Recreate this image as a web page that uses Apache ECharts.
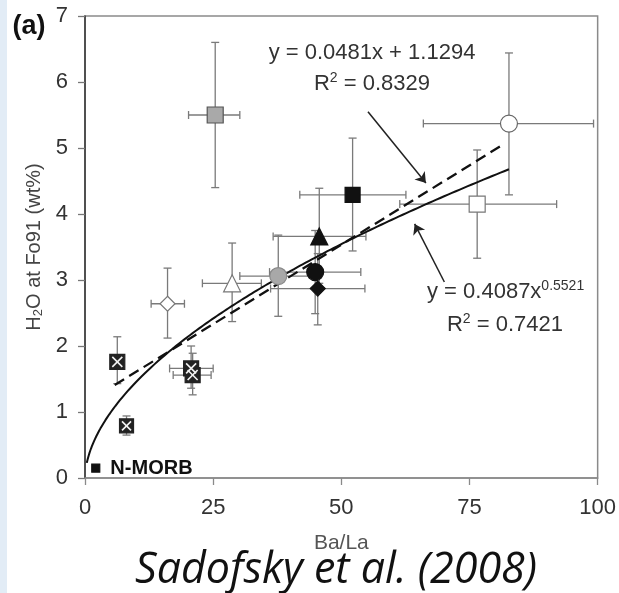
<!DOCTYPE html>
<html>
<head>
<meta charset="utf-8">
<script src="https://cdn.jsdelivr.net/npm/echarts@6/dist/echarts.min.js"></script>
<style>
  html, body { margin: 0; padding: 0; background: #fff; }
  #chart { width: 619px; height: 593px; }
</style>
</head>
<body>
<div id="chart"></div>
<script>
// Ba/La versus H2O at Fo91 (wt%) for each sample group, with 1-sigma ranges
const baLa   = [25.4, 82.7, 52.2, 76.5, 45.7, 44.9, 45.4, 37.7, 28.7, 16.1, 6.3, 20.7, 21.0, 8.1, 2.1];
const h2o    = [5.50, 5.37, 4.29, 4.15, 3.66, 3.12, 2.87, 3.06, 2.95, 2.64, 1.76, 1.66, 1.56, 0.79, 0.15];
const baLaLo = [20.2, 66.0, 41.9, 61.4, 36.7, 36.0, 36.2, 30.2, 22.9, 12.9, null, 16.5, 17.2, null, null];
const baLaHi = [30.2, 99.2, 62.6, 92.0, 54.8, 53.8, 54.6, 45.0, 34.4, 19.4, null, 25.0, 24.6, null, null];
const h2oLo  = [4.40, 4.29, 3.44, 3.33, 2.95, 2.49, 2.32, 2.45, 2.37, 2.12, 1.43, 1.36, 1.26, 0.65, null];
const h2oHi  = [6.60, 6.44, 5.15, 4.97, 4.39, 3.75, 3.40, 3.68, 3.56, 3.18, 2.14, 2.00, 1.89, 0.94, null];
const pointLabels = ['', '', '', '', '', '', '', '', '', '', '', '', '', '', 'N-MORB'];

// Fitted trends
const linSlope = 0.0481, linIntercept = 1.1294, linRange = [5.8, 81.0];
const powCoef = 0.4087, powExp = 0.5521, powRange = [0.35, 82.7];

// Axis ticks
const xTicks = [0, 25, 50, 75, 100];
const yTicks = [0, 1, 2, 3, 4, 5, 6, 7];

// Callout arrows pointing at the fit lines (data units)
const arrowFrom = [[55.2, 5.55], [70.1, 2.97]];
const arrowTo   = [[66.5, 4.47], [64.3, 3.85]];

// Marker look for each sample group
const markerStyle = [
  { symbol: 'rect',     size: 16, fill: '#a9a9a9', stroke: '#555' },
  { symbol: 'circle',   size: 17, fill: '#ffffff', stroke: '#666' },
  { symbol: 'rect',     size: 15, fill: '#111111', stroke: '#111' },
  { symbol: 'rect',     size: 16, fill: '#ffffff', stroke: '#777' },
  { symbol: 'triangle', size: 17, fill: '#111111', stroke: '#111' },
  { symbol: 'circle',   size: 17, fill: '#111111', stroke: '#111' },
  { symbol: 'diamond',  size: 15, fill: '#111111', stroke: '#111' },
  { symbol: 'circle',   size: 17, fill: '#a8a8a8', stroke: '#888' },
  { symbol: 'triangle', size: 17, fill: '#ffffff', stroke: '#777' },
  { symbol: 'diamond',  size: 15, fill: '#ffffff', stroke: '#777' },
  { symbol: 'rect',     size: 15, fill: '#222222', stroke: '#222', cross: true },
  { symbol: 'rect',     size: 15, fill: '#222222', stroke: '#222', cross: true },
  { symbol: 'rect',     size: 15, fill: '#222222', stroke: '#222', cross: true },
  { symbol: 'rect',     size: 14, fill: '#222222', stroke: '#222', cross: true },
  { symbol: 'rect',     size: 8,  fill: '#111111', stroke: '#111' }
];

const linePts = linRange.map(x => [x, linSlope * x + linIntercept]);
const powPts = [];
for (let t = 0; t <= 200; t++) {
  const x = powRange[0] + (powRange[1] - powRange[0]) * Math.pow(t / 200, 2);
  powPts.push([x, powCoef * Math.pow(x, powExp)]);
}

const idx = baLa.map((_, i) => [baLa[i], h2o[i], i]);

function seg(x1, y1, x2, y2, color, w) {
  return { type: 'line', shape: { x1, y1, x2, y2 }, style: { stroke: color, lineWidth: w } };
}

function renderErrorBars(params, api) {
  const i = params.dataIndex;
  const cap = 4, col = '#7a7a7a', w = 1.3;
  const kids = [];
  if (h2oLo[i] != null) {
    const lo = api.coord([baLa[i], h2oLo[i]]);
    const hi = api.coord([baLa[i], h2oHi[i]]);
    kids.push(seg(lo[0], lo[1], hi[0], hi[1], col, w));
    kids.push(seg(lo[0] - cap, lo[1], lo[0] + cap, lo[1], col, w));
    kids.push(seg(hi[0] - cap, hi[1], hi[0] + cap, hi[1], col, w));
  }
  if (baLaLo[i] != null) {
    const lo = api.coord([baLaLo[i], h2o[i]]);
    const hi = api.coord([baLaHi[i], h2o[i]]);
    kids.push(seg(lo[0], lo[1], hi[0], hi[1], col, w));
    kids.push(seg(lo[0], lo[1] - cap, lo[0], lo[1] + cap, col, w));
    kids.push(seg(hi[0], hi[1] - cap, hi[0], hi[1] + cap, col, w));
  }
  return { type: 'group', children: kids };
}

function renderCross(params, api) {
  const i = params.dataIndex;
  if (!markerStyle[i].cross) return { type: 'group', children: [] };
  const c = api.coord([baLa[i], h2o[i]]);
  const h = markerStyle[i].size / 2 - 2.5;
  return {
    type: 'group',
    children: [
      seg(c[0] - h, c[1] - h, c[0] + h, c[1] + h, '#f2f2f2', 1.6),
      seg(c[0] - h, c[1] + h, c[0] + h, c[1] - h, '#f2f2f2', 1.6)
    ]
  };
}

const baseFont = '"Liberation Sans", Arial, Helvetica, sans-serif';

const chart = echarts.init(document.getElementById('chart'), null, { renderer: 'canvas' });
chart.setOption({
  backgroundColor: '#ffffff',
  animation: false,
  grid: {
    left: 85, right: 18, top: 16, bottom: 115,
    show: true, borderColor: '#8a8a8a', borderWidth: 1.5, backgroundColor: 'transparent'
  },
  xAxis: {
    type: 'value', min: xTicks[0], max: xTicks[xTicks.length - 1], interval: 25,
    name: 'Ba/La', nameLocation: 'middle', nameGap: 55,
    nameTextStyle: { fontFamily: baseFont, fontSize: 21, color: '#555' },
    axisLine: { show: true, lineStyle: { color: '#8a8a8a', width: 1.5 } },
    axisTick: { show: true, inside: false, length: 7, lineStyle: { color: '#8a8a8a', width: 1.3 } },
    axisLabel: { fontFamily: baseFont, fontSize: 22, color: '#333', margin: 19 },
    splitLine: { show: false }
  },
  yAxis: {
    type: 'value', min: yTicks[0], max: yTicks[yTicks.length - 1], interval: 1,
    name: 'H{sub|2}O at Fo91 (wt%)', nameLocation: 'middle', nameGap: 39,
    nameTextStyle: {
      fontFamily: baseFont, fontSize: 20, color: '#444',
      rich: { sub: { fontFamily: baseFont, fontSize: 13, color: '#444', verticalAlign: 'bottom', lineHeight: 10 } }
    },
    axisLine: { show: true, lineStyle: { color: '#333', width: 1.5 } },
    axisTick: { show: true, inside: false, length: 7, lineStyle: { color: '#777', width: 1.3 } },
    axisLabel: { fontFamily: baseFont, fontSize: 22, color: '#333', margin: 17 },
    splitLine: { show: false }
  },
  graphic: [
    { type: 'rect', left: 0, top: 0, shape: { width: 7, height: 593 }, style: { fill: '#e2ecf6' }, silent: true },
    { type: 'text', x: 29, y: 27, style: { text: '(a)', font: 'bold 27px ' + baseFont, fill: '#111', align: 'center', verticalAlign: 'middle' } },
    { type: 'text', x: 372, y: 53, style: { text: 'y = 0.0481x + 1.1294', font: '22px ' + baseFont, fill: '#333', align: 'center', verticalAlign: 'middle' } },
    { type: 'text', x: 372, y: 84, style: {
        text: '{b|R}{s|2}{b| = 0.8329}', align: 'center', verticalAlign: 'middle',
        rich: {
          b: { font: '22px ' + baseFont, fill: '#333', lineHeight: 26 },
          s: { font: '14px ' + baseFont, fill: '#333', lineHeight: 8, verticalAlign: 'top' }
        }
      } },
    { type: 'text', x: 427, y: 292, style: {
        text: '{b|y = 0.4087x}{s|0.5521}', align: 'left', verticalAlign: 'middle',
        rich: {
          b: { font: '22px ' + baseFont, fill: '#333', lineHeight: 26 },
          s: { font: '14px ' + baseFont, fill: '#333', lineHeight: 8, verticalAlign: 'top' }
        }
      } },
    { type: 'text', x: 505, y: 325, style: {
        text: '{b|R}{s|2}{b| = 0.7421}', align: 'center', verticalAlign: 'middle',
        rich: {
          b: { font: '22px ' + baseFont, fill: '#333', lineHeight: 26 },
          s: { font: '14px ' + baseFont, fill: '#333', lineHeight: 8, verticalAlign: 'top' }
        }
      } },
    { type: 'text', x: 336, y: 571, style: { text: 'Sadofsky et al. (2008)', font: 'italic 43px "Open Sans", sans-serif', fill: '#111', align: 'center', verticalAlign: 'middle' } }
  ],
  series: [
    {
      type: 'custom', name: 'ranges', renderItem: renderErrorBars, data: idx, z: 2, silent: true
    },
    {
      type: 'line', name: 'linear fit', data: linePts, showSymbol: false, symbol: 'none', z: 3,
      lineStyle: { color: '#111', width: 2.3, type: [11, 6] }, silent: true
    },
    {
      type: 'line', name: 'power fit', data: powPts, showSymbol: false, symbol: 'none', smooth: false, z: 3,
      lineStyle: { color: '#111', width: 2 }, silent: true
    },
    {
      type: 'lines', coordinateSystem: 'cartesian2d', z: 3, silent: true,
      symbol: ['none', 'arrow'], symbolSize: 10,
      lineStyle: { color: '#222', width: 1.5, opacity: 1 },
      data: arrowFrom.map((p, k) => ({ coords: [p, arrowTo[k]] }))
    },
    {
      type: 'scatter', name: 'samples', z: 4, silent: true,
      data: idx.map(d => {
        const s = markerStyle[d[2]];
        const item = {
          value: [d[0], d[1]],
          symbol: s.symbol, symbolSize: s.size,
          itemStyle: { color: s.fill, borderColor: s.stroke, borderWidth: 1.2, opacity: 1 }
        };
        if (pointLabels[d[2]]) {
          item.label = {
            show: true, position: 'right', distance: 10, formatter: pointLabels[d[2]],
            fontFamily: baseFont, fontWeight: 'bold', fontSize: 20, color: '#111'
          };
        }
        return item;
      })
    },
    {
      type: 'custom', name: 'cross marks', renderItem: renderCross, data: idx, z: 5, silent: true
    }
  ]
});
</script>
</body>
</html>
